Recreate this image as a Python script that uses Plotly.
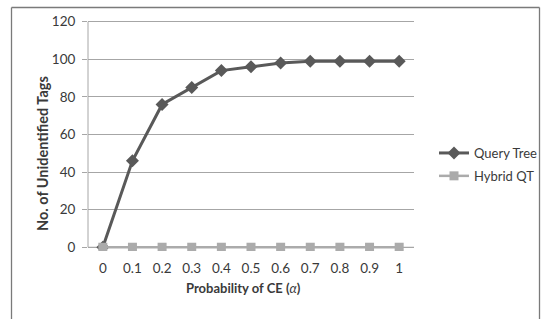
import plotly.graph_objects as go

categories = ["0", "0.1", "0.2", "0.3", "0.4", "0.5", "0.6", "0.7", "0.8", "0.9", "1"]
query_tree = [0, 46, 76, 85, 94, 96, 98, 99, 99, 99, 99]
hybrid_qt = [0, 0, 0, 0, 0, 0, 0, 0, 0, 0, 0]
y_ticks = [0, 20, 40, 60, 80, 100, 120]

FONT = "Lato"
TXT = "#3A3A3A"
GRID = "#A6A6A6"
BORDER = "#7A7A7A"
W, H = 543, 319
# plot area in page pixels: x 88..414, y(120)=22, y(0)=247 ; pad range by 2 units
PAD = 2
scale = 225 / 120.0
L = 88
R = W - 414
T = round(22 - PAD * scale)
B = round(H - 247 - PAD * scale)
pw, ph = W - L - R, H - T - B

def px(x):
    return (x - L) / pw

def py(y):
    return (H - B - y) / ph

fig = go.Figure()
fig.add_trace(go.Scatter(
    x=categories, y=query_tree, name="Query Tree", mode="lines+markers",
    legendgroup="a",
    line=dict(color="#595959", width=3),
    marker=dict(symbol="diamond", size=10, color="#595959"),
))
fig.add_trace(go.Scatter(
    x=categories, y=hybrid_qt, name="Hybrid QT", mode="lines+markers",
    legendgroup="b",
    line=dict(color="#ABABAB", width=2.5),
    marker=dict(symbol="square", size=9, color="#ABABAB"),
))

bx0, bx1, by0, by1 = px(11.5), px(539.5), py(7.5), py(319)
border_lines = [
    (bx0, by0, bx1, by0),
    (bx0, by0, bx0, by1),
    (bx1, by0, bx1, by1),
]

shapes = [
    dict(type="line", xref="paper", yref="y", x0=0, x1=1, y0=0, y1=0,
         line=dict(color=GRID, width=1), layer="below"),
    dict(type="line", xref="paper", yref="y", x0=0, x1=0, y0=0, y1=120,
         line=dict(color=GRID, width=1), layer="below"),
]
for (a, b, c, d) in border_lines:
    shapes.append(dict(type="line", xref="paper", yref="paper",
                       x0=a, y0=b, x1=c, y1=d, layer="above",
                       line=dict(color=BORDER, width=1.3)))

fig.update_layout(
    width=W, height=H,
    margin=dict(l=L, r=R, t=T, b=B, pad=0, autoexpand=False),
    paper_bgcolor="white", plot_bgcolor="white",
    font=dict(family=FONT, size=13, color=TXT),
    showlegend=True,
    legend=dict(x=px(434), y=py(138), xanchor="left", yanchor="top",
                font=dict(family=FONT, size=13, color=TXT),
                itemwidth=30, tracegroupgap=3, bgcolor="rgba(0,0,0,0)"),
    xaxis=dict(type="category", range=[-0.5, 10.5], showgrid=False,
               showline=False, zeroline=False, ticks="",
               ticklabelstandoff=3 + round(PAD * scale), tickfont=dict(size=13.5)),
    yaxis=dict(range=[-PAD, 120 + PAD], tickvals=y_ticks, showgrid=True,
               gridcolor=GRID, gridwidth=1, zeroline=False,
               showline=False, ticks="outside", ticklen=5, tickcolor=GRID,
               ticklabelstandoff=4, tickfont=dict(size=13.5)),
    shapes=shapes,
    annotations=[
        dict(text="<b>Probability of CE (</b><i>α</i><b>)</b>", xref="paper", yref="paper",
             x=px(243), y=py(288), showarrow=False, xanchor="center", yanchor="middle",
             font=dict(family=FONT, size=13, color=TXT)),
        dict(text="<b>No. of Unidentified Tags</b>", xref="paper", yref="paper",
             x=px(42), y=py(154), showarrow=False, xanchor="center", yanchor="middle",
             textangle=-90, font=dict(family=FONT, size=14.5, color=TXT)),
    ],
)

fig.write_html("out.html", config={"displayModeBar": False},
               post_script="document.body.style.margin='0';")
